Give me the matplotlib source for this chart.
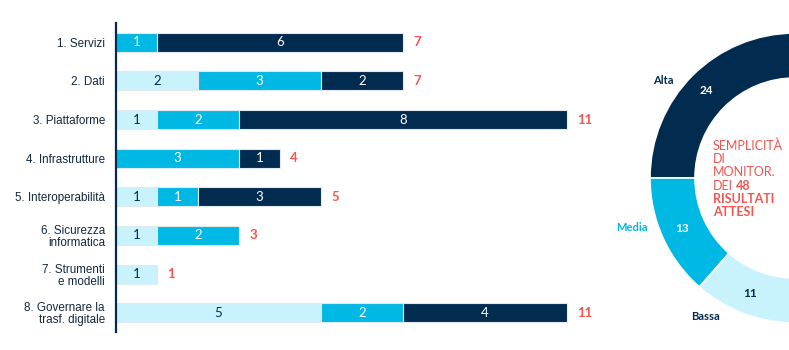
import numpy as np
import matplotlib.pyplot as plt
from matplotlib import font_manager

# Risultati attesi per linea d'azione, suddivisi per semplicità di monitoraggio
categorie = ["1. Servizi", "2. Dati", "3. Piattaforme", "4. Infrastrutture",
             "5. Interoperabilità", "6. Sicurezza\ninformatica",
             "7. Strumenti\ne modelli", "8. Governare la\ntrasf. digitale"]
bassa = [0, 2, 1, 0, 1, 1, 1, 5]
media = [1, 3, 2, 3, 1, 2, 0, 2]
alta = [6, 2, 8, 1, 3, 0, 0, 4]

# Anello riassuntivo
livelli = ["Alta", "Media", "Bassa"]
totali_livello = [24, 13, 11]
totale = 48

NAVY = "#022b50"
CIANO = "#00b8e4"
CHIARO = "#c8f3fd"
ROSSO = "#f5544f"

plt.rcParams["font.family"] = ["Liberation Sans", "DejaVu Sans"]

# font stretto per le etichette, se disponibile
nomi = {f.name for f in font_manager.fontManager.ttflist}
if "Liberation Sans Narrow" in nomi:
    font_etichette, size_etichette = ["Liberation Sans Narrow", "DejaVu Sans"], 9.5
else:
    font_etichette, size_etichette = ["Liberation Sans", "DejaVu Sans"], 8.4

fig = plt.figure(figsize=(7.89, 3.5), dpi=100)

# --- barre impilate ---
ax = fig.add_axes([116 / 789, 18 / 350, 484 / 789, 309 / 350])
y = np.arange(len(categorie))
serie = [(bassa, CHIARO, NAVY), (media, CIANO, "white"), (alta, NAVY, "white")]
sinistra = np.zeros(len(categorie))
for valori, colore, col_testo in serie:
    valori = np.array(valori)
    ax.barh(y, valori, left=sinistra, height=0.49, color=colore,
            edgecolor="#dfe9ef", linewidth=0.8)
    for yi, v, l in zip(y, valori, sinistra):
        if v > 0:
            ax.text(l + v / 2, yi, str(v), ha="center", va="center",
                    color=col_testo, fontsize=9.5, family=["Lato", "DejaVu Sans"])
    sinistra += valori

for yi, tot in zip(y, sinistra):
    ax.text(tot + 0.25, yi, f"{int(tot)}", ha="left", va="center", color=ROSSO,
            fontsize=9.5, fontweight="bold", family=["Lato", "DejaVu Sans"])

ax.set_yticks(y)
ax.set_yticklabels(categorie, fontsize=size_etichette, color="#14283f",
                   linespacing=1.0, family=font_etichette)
ax.tick_params(axis="y", length=0, pad=8)
ax.set_xticks([])
ax.set_xlim(0, 484 / 41)
ax.set_ylim(7.5, -0.5)
for lato in ["top", "right", "bottom"]:
    ax.spines[lato].set_visible(False)
ax.spines["left"].set_color(NAVY)
ax.spines["left"].set_linewidth(1.6)

# --- anello (metà sinistra visibile) ---
ax2 = fig.add_axes([(795 - 150) / 789, (350 - 178 - 150) / 350, 300 / 789, 300 / 350])
colori = [NAVY, CIANO, CHIARO, "none"]
spicchi, _ = ax2.pie(totali_livello + [totale], colors=colori, startangle=90,
                     counterclock=True, radius=145 / 150,
                     wedgeprops=dict(width=0.3, edgecolor="white", linewidth=1.2))
spicchi[-1].set_edgecolor("none")
ax2.set_xlim(-1, 1)
ax2.set_ylim(-1, 1)
ax2.set_axis_off()

font_anello = ["Lato", "DejaVu Sans"]
ax2.text(-0.88, 0.65, "Alta", color=NAVY, fontsize=8, fontweight="bold",
         ha="center", va="center", family=font_anello)
ax2.text(-0.59, 0.58, "24", color="white", fontsize=8.5, fontweight="bold",
         ha="center", va="center", family=font_anello)
ax2.text(-1.09, -0.33, "Media", color=CIANO, fontsize=8, fontweight="bold",
         ha="center", va="center", family=font_anello)
ax2.text(-0.75, -0.34, "13", color="white", fontsize=8.5, fontweight="bold",
         ha="center", va="center", family=font_anello)
ax2.text(-0.3, -0.77, "11", color=NAVY, fontsize=8.5, fontweight="bold",
         ha="center", va="center", family=font_anello)
ax2.text(-0.6, -0.92, "Bassa", color=NAVY, fontsize=8, fontweight="bold",
         ha="center", va="center", family=font_anello)

# testo centrale: parte normale e parte in grassetto
righe = [("SEMPLICITÀ", ""), ("DI", ""), ("MONITOR.", ""),
         ("DEI", "48"), ("", "RISULTATI"), ("", "ATTESI")]
x0 = -0.547
y0 = 0.213
passo = 0.088
for i, (normale, grassetto) in enumerate(righe):
    yy = y0 - i * passo
    if normale:
        ax2.text(x0, yy, normale, color=ROSSO, fontsize=9, ha="left",
                 va="center", family=font_anello)
    if grassetto:
        xb = x0 + 0.15 if normale else x0
        ax2.text(xb, yy, grassetto, color=ROSSO, fontsize=9, fontweight="bold",
                 ha="left", va="center", family=font_anello)

fig.savefig("out.png", dpi=100)
